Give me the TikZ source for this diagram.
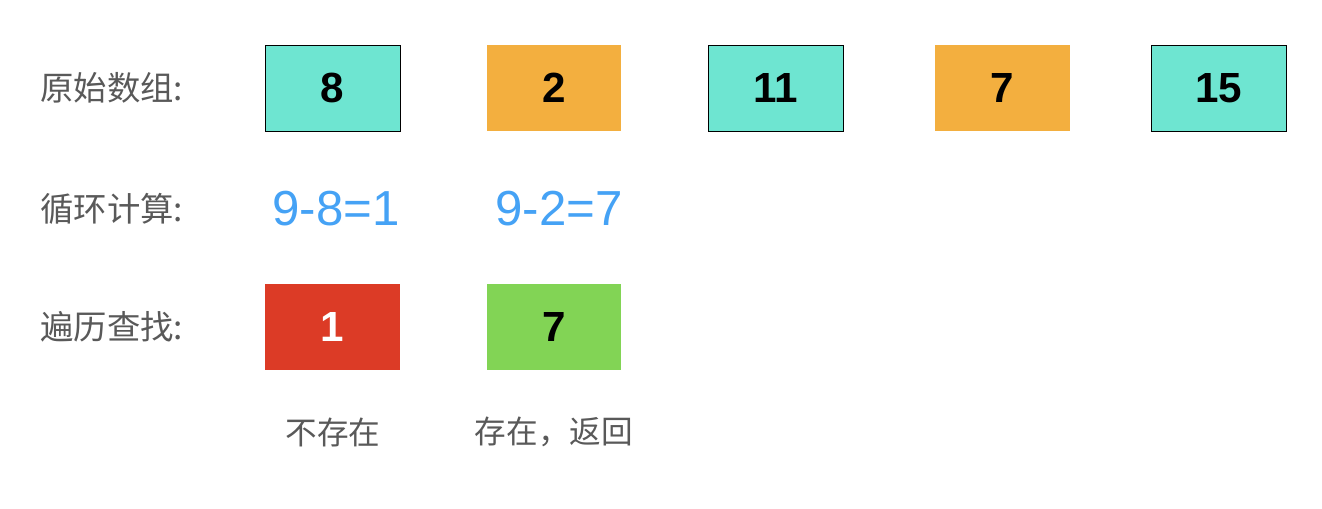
\documentclass[tikz,border=0pt]{standalone}
\usepackage{fontspec}
\setmainfont{Liberation Sans}
\newfontfamily\cjk{Noto Sans CJK SC}
\usepackage{tikz}
\definecolor{tealfill}{HTML}{6EE5D1}
\definecolor{orangefill}{HTML}{F3AF3F}
\definecolor{redfill}{HTML}{DC3B26}
\definecolor{greenfill}{HTML}{82D455}
\definecolor{calcblue}{HTML}{45A2F5}
\definecolor{labelgray}{HTML}{595959}
\tikzstyle{numbox}=[rectangle,inner sep=0pt,minimum width=2.7cm,
                    minimum height=1.72cm,font=\fontsize{24}{28}\selectfont\bfseries]
\tikzstyle{tealbox}=[numbox,draw=black,line width=0.45pt,fill=tealfill]
\tikzstyle{orangebox}=[numbox,fill=orangefill]
\tikzstyle{rowlabel}=[anchor=west,inner sep=0pt,text=labelgray,
                      font=\cjk\fontsize{19}{22}\selectfont]
\tikzstyle{calc}=[inner sep=0pt,text=calcblue,font=\fontsize{28}{32}\selectfont]
\tikzstyle{note}=[inner sep=0pt,text=labelgray,font=\cjk\fontsize{18}{21}\selectfont]

\begin{document}
\begin{tikzpicture}[x=0.02cm,y=-0.02cm]
    \useasboundingbox (0,0) rectangle (1322,508);
    % row labels
    \node (l1) at (40,88) [rowlabel]{原始数组:};
    \node (l2) at (40,209) [rowlabel]{循环计算:};
    \node (l3) at (40,327) [rowlabel]{遍历查找:};
    % original array
    \node (a1) at (332.5,88) [tealbox]{8};
    \node (a2) at (554,88) [orangebox]{2};
    \node (a3) at (775.5,88) [tealbox]{11};
    \node (a4) at (1002.5,88) [orangebox]{7};
    \node (a5) at (1218.5,88) [tealbox]{15};
    % loop
    \node (c1) at (336,209) [calc]{9-8=1};
    \node (c2) at (559,209) [calc]{9-2=7};
    % lookup
    \node (s1) at (332.5,327) [numbox,fill=redfill,text=white]{1};
    \node (s2) at (554,327) [numbox,fill=greenfill]{7};
    \node (n1) at (333,432) [note]{不存在};
    \node (n2) at (554,432) [note]{存在，返回};
  \end{tikzpicture}
\end{document}
